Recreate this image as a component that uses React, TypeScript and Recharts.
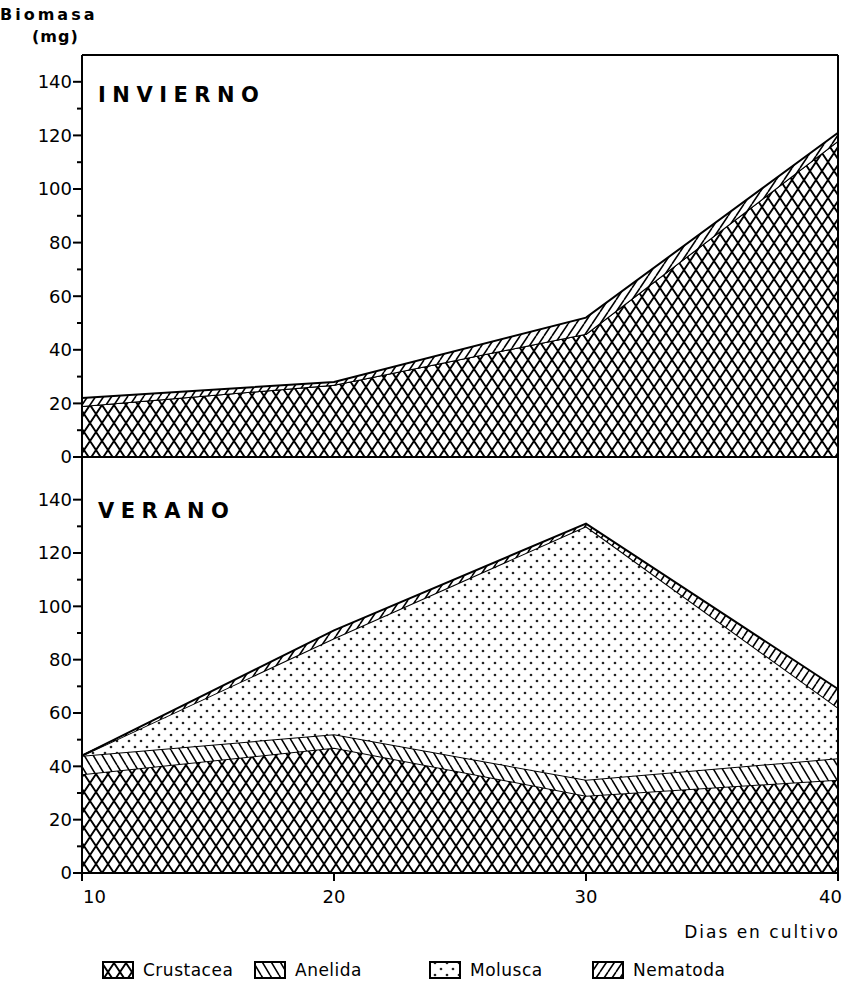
import { AreaChart, Area, XAxis, YAxis, ReferenceLine } from "recharts";

// biomass (mg) per group, sampled at each day of culture
const days = [10, 20, 30, 40];

const winterCrustacea = [19, 27, 46, 118];
const winterAnelida = [0, 0, 0, 0];
const winterMolusca = [0, 0, 0, 0];
const winterNematoda = [3, 1, 6, 3];

const summerCrustacea = [37, 47, 29, 35];
const summerAnelida = [7, 5, 6, 8];
const summerMolusca = [0, 36, 95, 19];
const summerNematoda = [0, 3, 1, 7];

const yTicks = [0, 10, 20, 30, 40, 50, 60, 70, 80, 90, 100, 110, 120, 130, 140];
const dayTicks = [10, 20, 30, 40];

const groups = [
  { key: "crustacea", label: "Crustacea", fill: "cross" },
  { key: "anelida", label: "Anelida", fill: "back" },
  { key: "molusca", label: "Molusca", fill: "dots" },
  { key: "nematoda", label: "Nematoda", fill: "fwd" },
];

const toRows = (c: number[], a: number[], m: number[], n: number[]) =>
  days.map((day, i) => ({ day, crustacea: c[i], anelida: a[i], molusca: m[i], nematoda: n[i] }));

const winter = toRows(winterCrustacea, winterAnelida, winterMolusca, winterNematoda);
const summer = toRows(summerCrustacea, summerAnelida, summerMolusca, summerNematoda);

const FONT = "'DejaVu Sans', sans-serif";

const Patterns = ({ id }: { id: string }) => (
  <defs>
    <pattern id={`${id}-cross`} patternUnits="userSpaceOnUse" width={12} height={18}>
      <rect width={12} height={18} fill="#fff" />
      <path d="M-6,-9 L18,27 M18,-9 L-6,27" stroke="#000" strokeWidth={1.9} />
    </pattern>
    <pattern id={`${id}-back`} patternUnits="userSpaceOnUse" width={9} height={15}>
      <rect width={9} height={15} fill="#fff" />
      <path d="M-9,0 L0,15 M0,0 L9,15 M9,0 L18,15" stroke="#000" strokeWidth={1.6} />
    </pattern>
    <pattern id={`${id}-fwd`} patternUnits="userSpaceOnUse" width={8} height={12}>
      <rect width={8} height={12} fill="#fff" />
      <path d="M-8,12 L0,0 M0,12 L8,0 M8,12 L16,0" stroke="#000" strokeWidth={1.6} />
    </pattern>
    <pattern id={`${id}-dots`} patternUnits="userSpaceOnUse" width={12} height={12}>
      <rect width={12} height={12} fill="#fff" />
      <circle cx={3} cy={3} r={1.35} fill="#222" />
      <circle cx={9} cy={9} r={1.35} fill="#222" />
    </pattern>
  </defs>
);

const YTick = ({ x, y, payload }: any) => {
  const major = payload.value % 20 === 0;
  return (
    <g>
      <line x1={x - (major ? 9 : 5)} x2={x} y1={y} y2={y} stroke="#000" strokeWidth={2} />
      {major && (
        <text x={x - 10} y={y} dy="0.36em" textAnchor="end" fontSize={18} fontFamily={FONT} fill="#000">
          {payload.value}
        </text>
      )}
    </g>
  );
};

const XTick = ({ x, y, payload, index }: any) => {
  const first = index === 0;
  const last = index === dayTicks.length - 1;
  return (
    <g>
      <line x1={x} x2={x} y1={y} y2={y + 8} stroke="#000" strokeWidth={2} />
      <text
        x={first ? x + 1 : last ? x + 4 : x}
        y={y + 30}
        textAnchor={first ? "start" : last ? "end" : "middle"}
        fontSize={18}
        fontFamily={FONT}
        fill="#000"
      >
        {payload.value}
      </text>
    </g>
  );
};

const stacks = (id: string) =>
  groups.map((g) => (
    <Area
      key={g.key}
      type="linear"
      dataKey={g.key}
      stackId="s"
      fill={`url(#${id}-${g.fill})`}
      fillOpacity={1}
      stroke="#000"
      strokeWidth={2}
      dot={false}
      activeDot={false}
      isAnimationActive={false}
    />
  ));

const layer: React.CSSProperties = { position: "absolute", left: 0, top: 0 };

export default function App() {
  return (
    <div style={{ position: "absolute", left: 0, top: 0, width: 842, height: 991, background: "#fff" }}>
      {/* winter panel */}
      <div style={layer}>
        <AreaChart width={842} height={991} data={winter} margin={{ top: 55, right: 4, bottom: 534, left: 0 }}>
          <Patterns id="w" />
          <XAxis dataKey="day" type="number" domain={[10, 40]} ticks={dayTicks} hide />
          <YAxis
            width={82}
            domain={[0, 150]}
            ticks={yTicks}
            interval={0}
            tickSize={0}
            tickMargin={0}
            tickLine={false}
            tick={<YTick />}
            axisLine={{ stroke: "#000", strokeWidth: 2 }}
            allowDataOverflow
          />
          {stacks("w")}
          <ReferenceLine y={150} stroke="#000" strokeWidth={2} />
          <ReferenceLine x={40} stroke="#000" strokeWidth={2} />
          <ReferenceLine y={0} stroke="#000" strokeWidth={2} />
        </AreaChart>
      </div>

      {/* summer panel */}
      <div style={layer}>
        <AreaChart width={842} height={991} data={summer} margin={{ top: 457, right: 4, bottom: 88, left: 0 }}>
          <Patterns id="s" />
          <XAxis
            dataKey="day"
            type="number"
            domain={[10, 40]}
            ticks={dayTicks}
            interval={0}
            height={30}
            tickSize={0}
            tickMargin={0}
            tickLine={false}
            tick={<XTick />}
            axisLine={{ stroke: "#000", strokeWidth: 2 }}
          />
          <YAxis
            width={82}
            domain={[0, 156]}
            ticks={yTicks}
            interval={0}
            tickSize={0}
            tickMargin={0}
            tickLine={false}
            tick={<YTick />}
            axisLine={{ stroke: "#000", strokeWidth: 2 }}
            allowDataOverflow
          />
          {stacks("s")}
          <ReferenceLine x={40} stroke="#000" strokeWidth={2} />
        </AreaChart>
      </div>

      {/* titles and legend */}
      <svg width={842} height={991} style={{ ...layer, pointerEvents: "none" }} fontFamily={FONT} fill="#000">
        <Patterns id="k" />
        <text x={0} y={20} fontSize={16} fontWeight="bold" letterSpacing={3}>Biomasa</text>
        <text x={32} y={42} fontSize={16} fontWeight="bold" letterSpacing={1}>(mg)</text>
        <text x={98} y={102} fontSize={21} fontWeight="bold" letterSpacing={6.5}>INVIERNO</text>
        <text x={98} y={518} fontSize={21} fontWeight="bold" letterSpacing={6.5}>VERANO</text>
        <text x={840} y={938} fontSize={17} textAnchor="end" letterSpacing={2}>Dias en cultivo</text>
        {groups.map((g, i) => {
          const lx = [103, 255, 430, 593][i];
          return (
            <g key={g.key}>
              <rect x={lx} y={962} width={30} height={16} fill={`url(#k-${g.fill})`} stroke="#000" strokeWidth={2} />
              <text x={lx + 40} y={976} fontSize={17} letterSpacing={0.5}>{g.label}</text>
            </g>
          );
        })}
      </svg>
    </div>
  );
}
